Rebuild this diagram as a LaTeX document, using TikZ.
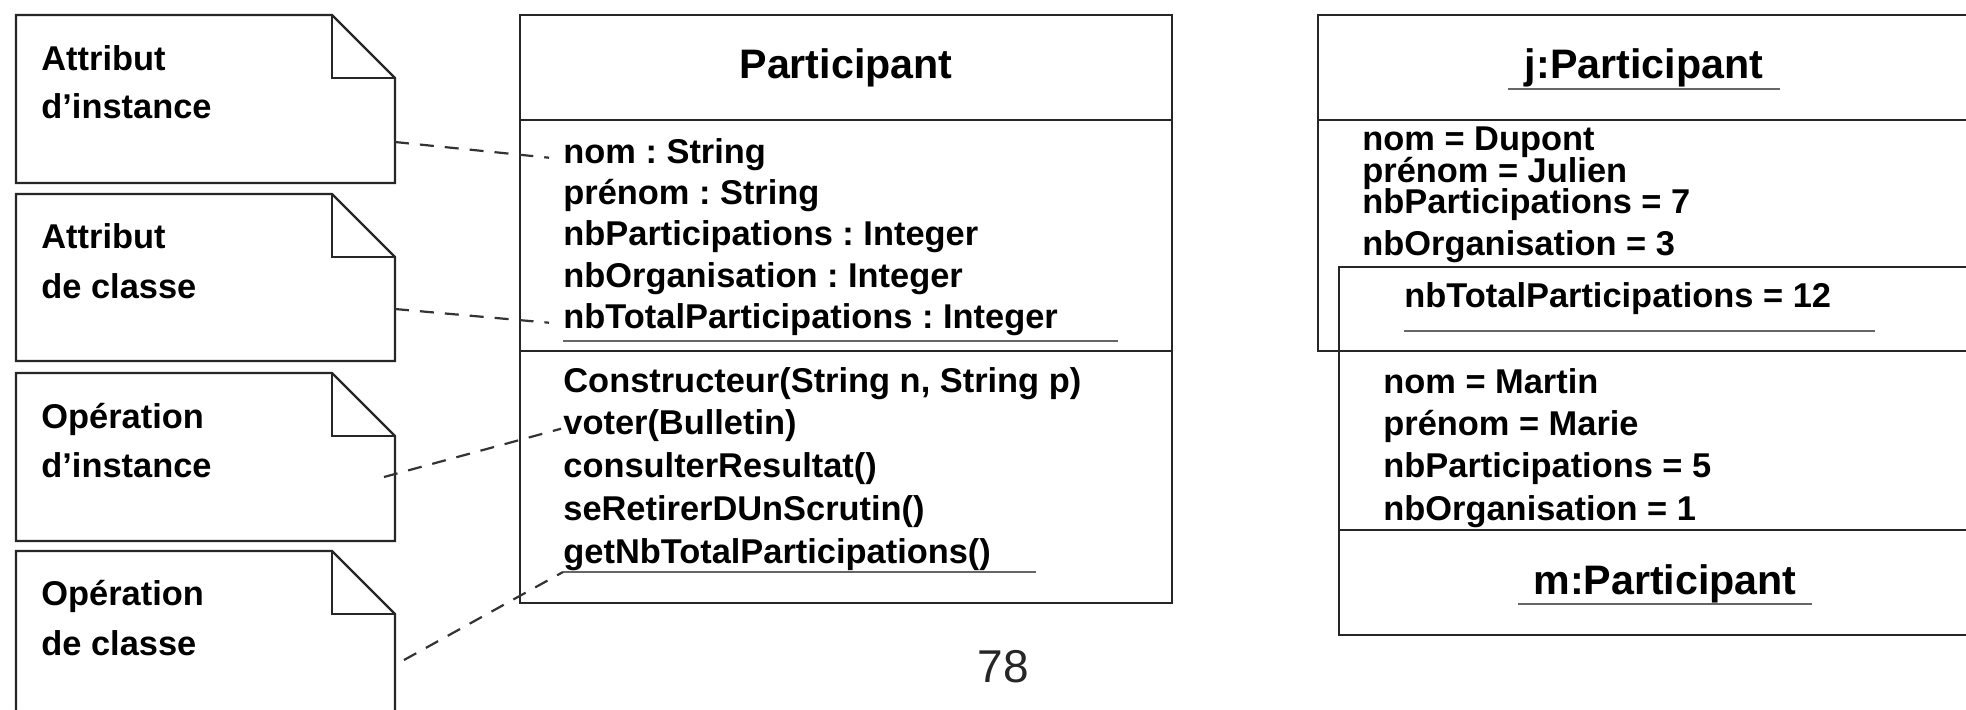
\documentclass[tikz,border=0pt]{standalone}
\usepackage{fontspec}
\setmainfont{Liberation Sans}
\usetikzlibrary{positioning}
\frenchspacing

\tikzset{
  box/.style={draw=black!85, line width=1.1pt},
  note/.style={draw=black!85, line width=1.1pt, line join=miter},
  item/.style={anchor=base west, inner sep=0pt, font=\bfseries\fontsize{17.2}{20}\selectfont},
  title/.style={anchor=base, inner sep=0pt, font=\bfseries\fontsize{20.6}{24}\selectfont},
  uline/.style={draw=black!60, line width=1.4pt},
  link/.style={draw=black!80, line width=1.1pt, dash pattern=on 7pt off 5.5pt},
}

\begin{document}
\begin{tikzpicture}[x=0.5pt, y=-0.5pt]
  \useasboundingbox (0,0) rectangle (1966,709);
  \fill[white] (0,0) rectangle (1966,709);
  \clip (0,0) rectangle (1966,709);

  % Notes (dog-eared)
  \draw[note] (16,15) -- (332,15) -- (395,78) -- (395,183) -- (16,183) -- cycle;
  \draw[note] (332,15) -- (332,78) -- (395,78);
  \draw[note] (16,194) -- (332,194) -- (395,257) -- (395,361) -- (16,361) -- cycle;
  \draw[note] (332,194) -- (332,257) -- (395,257);
  \draw[note] (16,373) -- (332,373) -- (395,436) -- (395,541) -- (16,541) -- cycle;
  \draw[note] (332,373) -- (332,436) -- (395,436);
  \draw[note] (16,551) -- (332,551) -- (395,614) -- (395,760) -- (16,760) -- cycle;
  \draw[note] (332,551) -- (332,614) -- (395,614);
  \node[item] (attinst1) at (41,70)  {Attribut};
  \node[item] (attinst2) at (41,118) {d’instance};
  \node[item] (attcls1)  at (41,248) {Attribut};
  \node[item] (attcls2)  at (41,298) {de classe};
  \node[item] (opinst1)  at (41,428) {Opération};
  \node[item] (opinst2)  at (41,477) {d’instance};
  \node[item] (opcls1)   at (41,605) {Opération};
  \node[item] (opcls2)   at (41,655) {de classe};

  % Class Participant
  \draw[box] (520,15) rectangle (1172,603);
  \draw[box] (520,120) -- (1172,120);
  \draw[box] (520,351) -- (1172,351);
  \node[title] (cls) at (846,78) {Participant};
  \node[item] (att1) at (563,163) {nom : String};
  \node[item] (att2) at (563,204) {prénom : String};
  \node[item] (att3) at (563,245) {nbParticipations : Integer};
  \node[item] (att4) at (563,287) {nbOrganisation : Integer};
  \node[item] (att5) at (563,328) {nbTotalParticipations : Integer};
  \draw[uline] (563,341) -- (1118,341);
  \node[item] (op1) at (563,392) {Constructeur(String n, String p)};
  \node[item] (op2) at (563,434) {voter(Bulletin)};
  \node[item] (op3) at (563,477) {consulterResultat()};
  \node[item] (op4) at (563,520) {seRetirerDUnScrutin()};
  \node[item] (op5) at (563,563) {getNbTotalParticipations()};
  \coordinate (opsul) at (563,572);
  \draw[uline] (opsul) -- (1036,572);

  % page number
  \node[anchor=base, inner sep=0pt, font=\fontsize{23}{26}\selectfont, black!85] (pgnum) at (1003,682) {78};

  % note links (dashed)
  \coordinate (tie1) at (395,142);
  \coordinate (tie2) at (395,309);
  \coordinate (tie3) at (384,477);
  \coordinate (tie4) at (404,660);
  \draw[link] (tie1) -- ([xshift=-7pt]att1.mid west);
  \draw[link] (tie2) -- ([xshift=-7pt]att5.mid west);
  \draw[link] (tie3) -- ([xshift=-1pt]op2.mid west);
  \draw[link] (tie4) -- (opsul);

  % Object j:Participant
  \draw[box] (1318,15) rectangle (2000,351);
  \draw[box] (1318,120) -- (2000,120);
  \node[title] (objj) at (1644,78) {j:Participant};
  \draw[uline] (1508,89) -- (1780,89);
  \node[item] (jnom)  at (1362,150) {nom = Dupont};
  \node[item] (jpre)  at (1362,182) {prénom = Julien};
  \node[item] (jpart) at (1362,213) {nbParticipations = 7};
  \node[item] (jorg)  at (1362,255) {nbOrganisation = 3};

  % Object m:Participant (drawn upside down, overlapping)
  \draw[box] (1339,267) rectangle (2000,635);
  \draw[box] (1339,530) -- (2000,530);
  \node[item] (total) at (1404,307) {nbTotalParticipations = 12};
  \draw[uline] (1404,331) -- (1875,331);
  \node[item] (mnom)  at (1383,393) {nom = Martin};
  \node[item] (mpre)  at (1383,435) {prénom = Marie};
  \node[item] (mpart) at (1383,477) {nbParticipations = 5};
  \node[item] (morg)  at (1383,520) {nbOrganisation = 1};
  \node[title] (objm) at (1665,594) {m:Participant};
  \draw[uline] (1518,604) -- (1812,604);
\end{tikzpicture}
\end{document}
